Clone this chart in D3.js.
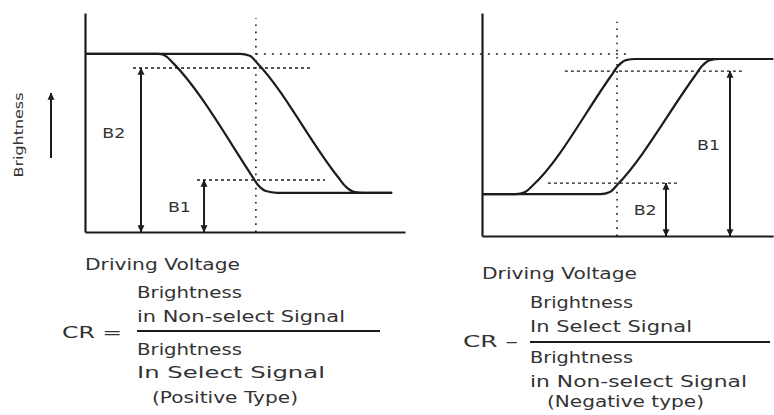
<!DOCTYPE html>
<html><head><meta charset="utf-8">
<script src="https://cdn.jsdelivr.net/npm/d3@7"></script>
<style>html,body{margin:0;padding:0;background:#fff}svg{display:block}</style>
</head><body>
<script>
// ---------------- DATA ----------------
// Positive type (left panel): brightness (%) vs driving voltage (arb. units)
const posCurve1V = [0, 23, 25.5, 27.5, 52, 54, 56.5, 60, 96];
const posCurve1B = [100, 100, 98.5, 95, 32, 26.5, 23, 22, 22];
const posCurve2V = [0, 48.5, 51.5, 54, 79, 81.5, 84, 87, 96];
const posCurve2B = [100, 100, 99, 94.5, 31, 25.5, 22.6, 22, 22];
const posLevelNames = ["B2", "B1"];
const posLevelValues = [92.1, 29.2];
const posSelectVoltage = 53.4;

// Negative type (right panel)
const negCurve1V = [0, 10.5, 13.5, 16, 40.3, 42.5, 45, 48, 91];
const negCurve1B = [23.7, 23.7, 24.9, 28.8, 90.4, 96, 99.4, 100, 100];
const negCurve2V = [0, 37, 40, 42.5, 66.5, 68.75, 71.25, 74.4, 91];
const negCurve2B = [23.7, 23.7, 24.9, 29.4, 90.4, 96, 99.4, 100, 100];
const negLevelNames = ["B1", "B2"];
const negLevelValues = [93.2, 29.9];
const negSelectVoltage = 42.2;

// Text
const yAxisLabel = "Brightness";
const xAxisLabel = "Driving Voltage";
const posFormula = ["CR =", "Brightness", "in Non-select Signal", "Brightness", "In Select Signal", "(Positive Type)"];
const negFormula = ["CR \u2013", "Brightness", "In Select Signal", "Brightness", "in Non-select Signal", "(Negative type)"];

// ---------------- LAYOUT ----------------
const W = 774, H = 415;
const ink = "#1c1c1c", textInk = "#333";
const svg = d3.select("body").append("svg").attr("width", W).attr("height", H);

const defs = svg.append("defs");
defs.append("marker").attr("id", "ah").attr("viewBox", "0 0 10 10")
  .attr("refX", 9.5).attr("refY", 5).attr("markerUnits", "userSpaceOnUse")
  .attr("markerWidth", 7).attr("markerHeight", 10).attr("orient", "auto-start-reverse")
  .append("path").attr("d", "M0,0 L10,5 L0,10 Z").attr("fill", ink);

const panels = [
  {x: d3.scaleLinear().domain([0, 100]).range([85, 405]),
   y: d3.scaleLinear().domain([0, 123]).range([232, 13]),
   curves: [[posCurve1V, posCurve1B], [posCurve2V, posCurve2B]],
   names: posLevelNames, levels: posLevelValues, sel: posSelectVoltage,
   arrowV: [17.5, 37.2], labelPos: [[9, 133], [29.5, 207]],
   levelSpan: [[15, 70.3], [35, 75]]},
  {x: d3.scaleLinear().domain([0, 91]).range([482, 773.2]),
   y: d3.scaleLinear().domain([0, 126]).range([236, 13]),
   curves: [[negCurve1V, negCurve1B], [negCurve2V, negCurve2B]],
   names: negLevelNames, levels: negLevelValues, sel: negSelectVoltage,
   arrowV: [77.5, 57.5], labelPos: [[70.8, 145], [51, 210]],
   levelSpan: [[25.9, 81.25], [20.6, 60.9]]}
];

panels.forEach((p, pi) => {
  const g = svg.append("g");
  // axes (no ticks)
  g.append("g").attr("transform", `translate(${p.x.range()[0]},0)`)
    .call(d3.axisLeft(p.y).tickValues([]).tickSizeOuter(0));
  g.append("g").attr("transform", `translate(0,${p.y(0)})`)
    .call(d3.axisBottom(p.x).tickValues([]).tickSizeOuter(0));
  g.selectAll(".domain").attr("stroke", ink).attr("stroke-width", 2.2);

  // dotted guides: select-voltage vertical
  g.append("line")
    .attr("x1", p.x(p.sel)).attr("x2", p.x(p.sel))
    .attr("y1", p.y(0)).attr("y2", p.y(pi === 0 ? 120 : 121))
    .attr("stroke", ink).attr("stroke-width", 1.6).attr("stroke-dasharray", "1.6,5.5");
  // dotted level lines
  p.levels.forEach((lv, i) => {
    g.append("line")
      .attr("x1", p.x(p.levelSpan[i][0])).attr("x2", p.x(p.levelSpan[i][1]))
      .attr("y1", p.y(lv)).attr("y2", p.y(lv))
      .attr("stroke", ink).attr("stroke-width", 1.3).attr("stroke-dasharray", "3,3");
  });

  // curves
  const line = d3.line().x(d => p.x(d[0])).y(d => p.y(d[1])).curve(d3.curveMonotoneX);
  p.curves.forEach(c => {
    const pts = c[0].map((v, i) => [v, c[1][i]]);
    g.append("path").attr("d", line(pts)).attr("fill", "none")
      .attr("stroke", ink).attr("stroke-width", 2.2).attr("stroke-linejoin", "round");
  });

  // double arrows + labels
  p.levels.forEach((lv, i) => {
    g.append("line")
      .attr("x1", p.x(p.arrowV[i])).attr("x2", p.x(p.arrowV[i]))
      .attr("y1", p.y(0)).attr("y2", p.y(lv))
      .attr("stroke", ink).attr("stroke-width", 2)
      .attr("marker-start", "url(#ah)").attr("marker-end", "url(#ah)");
    g.append("text")
      .attr("x", p.x(p.labelPos[i][0])).attr("y", p.labelPos[i][1] + 5)
      .attr("text-anchor", "middle")
      .attr("font-family", "DejaVu Sans, sans-serif").attr("font-size", 14)
      .attr("textLength", 23).attr("lengthAdjust", "spacingAndGlyphs")
      .attr("fill", textInk).text(p.names[i]);
  });
});

// top dotted reference line spanning both panels
const pl = panels[0];
svg.append("line")
  .attr("x1", pl.x(pl.sel)).attr("x2", pl.x(169.4))
  .attr("y1", pl.y(100)).attr("y2", pl.y(100))
  .attr("stroke", ink).attr("stroke-width", 1.4).attr("stroke-dasharray", "2,6");

// y-axis label and arrow
svg.append("text")
  .attr("transform", "translate(23,135) rotate(-90)")
  .attr("text-anchor", "middle")
  .attr("font-family", "DejaVu Sans, sans-serif").attr("font-size", 12)
  .attr("textLength", 85).attr("lengthAdjust", "spacingAndGlyphs")
  .attr("fill", textInk).text(yAxisLabel);
svg.append("line").attr("x1", 51).attr("x2", 51).attr("y1", 158).attr("y2", 93)
  .attr("stroke", ink).attr("stroke-width", 2).attr("marker-end", "url(#ah)");

// text blocks
function txt(x, y, s, len, size) {
  svg.append("text").attr("x", x).attr("y", y)
    .attr("font-family", "DejaVu Sans, sans-serif").attr("font-size", size || 15)
    .attr("textLength", len).attr("lengthAdjust", "spacingAndGlyphs")
    .attr("fill", textInk).text(s);
}
txt(85, 270, xAxisLabel, 155);
txt(482, 279, xAxisLabel, 155);

// positive formula
txt(62, 338, posFormula[0], 60);
txt(137, 298, posFormula[1], 105);
txt(137, 322, posFormula[2], 208);
txt(137, 355, posFormula[3], 105);
txt(137, 378, posFormula[4], 188);
txt(152, 403, posFormula[5], 146);
svg.append("line").attr("x1", 137).attr("x2", 380).attr("y1", 331).attr("y2", 331)
  .attr("stroke", ink).attr("stroke-width", 2);

// negative formula
txt(463, 347, negFormula[0], 55);
txt(530, 308, negFormula[1], 103);
txt(530, 332, negFormula[2], 162);
txt(530, 363, negFormula[3], 103);
txt(530, 387, negFormula[4], 217);
txt(547, 407, negFormula[5], 157);
svg.append("line").attr("x1", 530).attr("x2", 770).attr("y1", 342).attr("y2", 342)
  .attr("stroke", ink).attr("stroke-width", 2);
</script>
</body></html>
